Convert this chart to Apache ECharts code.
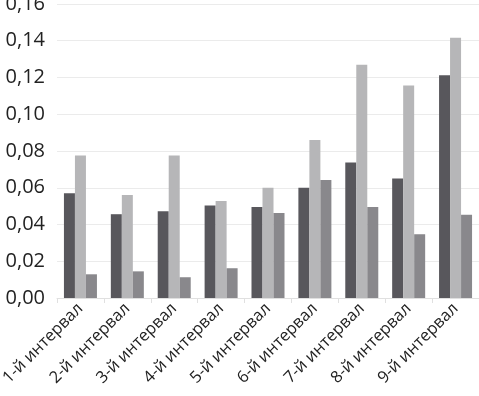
<!DOCTYPE html>
<html>
<head>
<meta charset="utf-8">
<script src="https://cdn.jsdelivr.net/npm/echarts@6/dist/echarts.min.js"></script>
<style>
html,body{margin:0;padding:0;background:#fff;}
#main{width:479px;height:396px;}
</style>
</head>
<body>
<div id="main"></div>
<script>
// категории и значения
var categories = ['1-й интервал','2-й интервал','3-й интервал','4-й интервал','5-й интервал','6-й интервал','7-й интервал','8-й интервал','9-й интервал'];
var darkVals   = [0.057, 0.0456, 0.0472, 0.0504, 0.0495, 0.060, 0.0738, 0.0651, 0.1212];
var lightVals  = [0.0775, 0.056, 0.0775, 0.0528, 0.060, 0.086, 0.127, 0.1156, 0.1417];
var midVals    = [0.0129, 0.0145, 0.0113, 0.0162, 0.0463, 0.0642, 0.0495, 0.0347, 0.0453];

var myChart = echarts.init(document.getElementById('main'));
var option = {
    animation: false,
    grid: {left: 57, right: 0, top: 4, bottom: 98, outerBoundsMode: 'none', containLabel: false},
    xAxis: {
        type: 'category',
        data: categories,
        axisLine: {lineStyle: {color: '#e0e0e0'}},
        axisTick: {show: true, lineStyle: {color: '#e0e0e0'}},
        axisLabel: {rotate: 45, fontSize: 16.5, color: '#222', fontFamily: 'Open Sans', margin: 8, interval: 0}
    },
    yAxis: {
        type: 'value',
        min: 0, max: 0.16, interval: 0.02,
        axisLine: {show: false},
        axisTick: {show: false},
        splitLine: {lineStyle: {color: '#ebebeb'}},
        axisLabel: {
            fontSize: 20, color: '#222', fontFamily: 'Open Sans', margin: 12, padding: [6, 0, 0, 0],
            formatter: function(v){ return v.toFixed(2).replace('.', ','); }
        }
    },
    series: [
        {type: 'bar', data: darkVals, barWidth: 11, barGap: '0%', itemStyle: {color: '#58575c'}},
        {type: 'bar', data: lightVals, barWidth: 11, barGap: '0%', itemStyle: {color: '#b6b6b8'}},
        {type: 'bar', data: midVals, barWidth: 11, barGap: '0%', itemStyle: {color: '#89888c'}}
    ]
};
myChart.setOption(option);
</script>
</body>
</html>
